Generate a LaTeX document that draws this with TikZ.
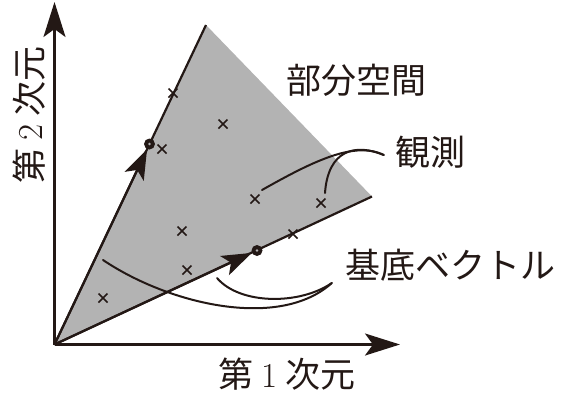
\documentclass[tikz,border=0pt]{standalone}
\usepackage{fontspec}
\newfontfamily\cjk{Noto Sans CJK JP}
\usetikzlibrary{arrows.meta,shapes.misc,calc}
\definecolor{ink}{HTML}{231815}
\definecolor{sub}{HTML}{B3B3B3}
\tikzset{
  axis/.style={line width=2.4pt, draw=ink, -{Stealth[length=35pt,width=22pt,inset=8pt]}},
  edge/.style={line width=2.2pt, draw=ink},
  vec/.style={line width=2.2pt, draw=ink, -{Stealth[length=30pt,width=21pt,inset=7pt]}},
  obs/.style={cross out, draw=ink, line width=1.5pt, minimum size=7.5pt, inner sep=0pt},
  dot/.style={circle, fill=ink, minimum size=11pt, inner sep=0pt,
    path picture={\fill[sub] (path picture bounding box.center) circle (1.3pt);}},
  call/.style={line width=2pt, draw=ink, line cap=round},
  lbl/.style={inner sep=0pt, text=ink, font=\fontsize{35}{40}\selectfont\cjk},
}
\begin{document}
\begin{tikzpicture}[x=1pt,y=-1pt]
\useasboundingbox (0,0) rectangle (565,400);
% subspace
\coordinate (O) at (54.5,344.5);
\coordinate (T) at (206,25);
\coordinate (R) at (372,196.5);
\fill[sub] (O) -- (T) -- (R) -- cycle;
\draw[edge] (O) -- (T);
\draw[edge] (O) -- (R);
% axes
\coordinate (Ytop) at (54.5,2);
\coordinate (Xend) at (400,344.5);
\draw[axis] (O) -- (Ytop);
\draw[axis] (O) -- (Xend);
% observations
\node[obs] (x1) at (173,93) {};
\node[obs] (x2) at (223,124) {};
\node[obs] (x3) at (162,149) {};
\node[obs] (x4) at (255,199) {};
\node[obs] (x5) at (321,203) {};
\node[obs] (x6) at (182,231) {};
\node[obs] (x7) at (187,270) {};
\node[obs] (x8) at (103,298) {};
\node[obs] (x9) at (293,234) {};
% basis vectors
\node[dot] (b1) at (149.5,144) {};
\node[dot] (b2) at (257,250.5) {};
\draw[vec] (O) -- (b1);
\draw[vec] (O) -- (b2);
% labels
\node[lbl] (sub) at (356,80) {部分空間};
\node[lbl] (obsl) at (430,152) {観測};
\node[lbl] (basl) at (450,265) {基底ベクトル};
\node[inner sep=0pt, text=ink, font=\fontsize{35}{40}\selectfont] (xl) at (287,374) {{\cjk 第}\hspace{8pt}1\hspace{8pt}{\cjk 次元}};
\node[inner sep=0pt, text=ink, font=\fontsize{35}{40}\selectfont, rotate=90] (yl) at (29,115) {{\cjk 第}\hspace{8pt}2\hspace{8pt}{\cjk 次元}};
% callouts
\coordinate (oe1) at (262,190);
\coordinate (oe2) at (325,193);
\draw[call] ($(obsl.west)+(-11,3)$) .. controls (355,141) and (315,160) .. (oe1);
\draw[call] ($(obsl.west)+(-11,3)$) .. controls (355,143) and (328,150) .. (oe2);
\coordinate (be1) at (217,278);
\coordinate (be2) at (103,260);
\draw[call] ($(basl.west)+(-13,18)$) .. controls (300,305) and (240,305) .. (be1);
\draw[call] ($(basl.west)+(-13,18)$) .. controls (280,330) and (170,305) .. (be2);
\end{tikzpicture}
\end{document}
